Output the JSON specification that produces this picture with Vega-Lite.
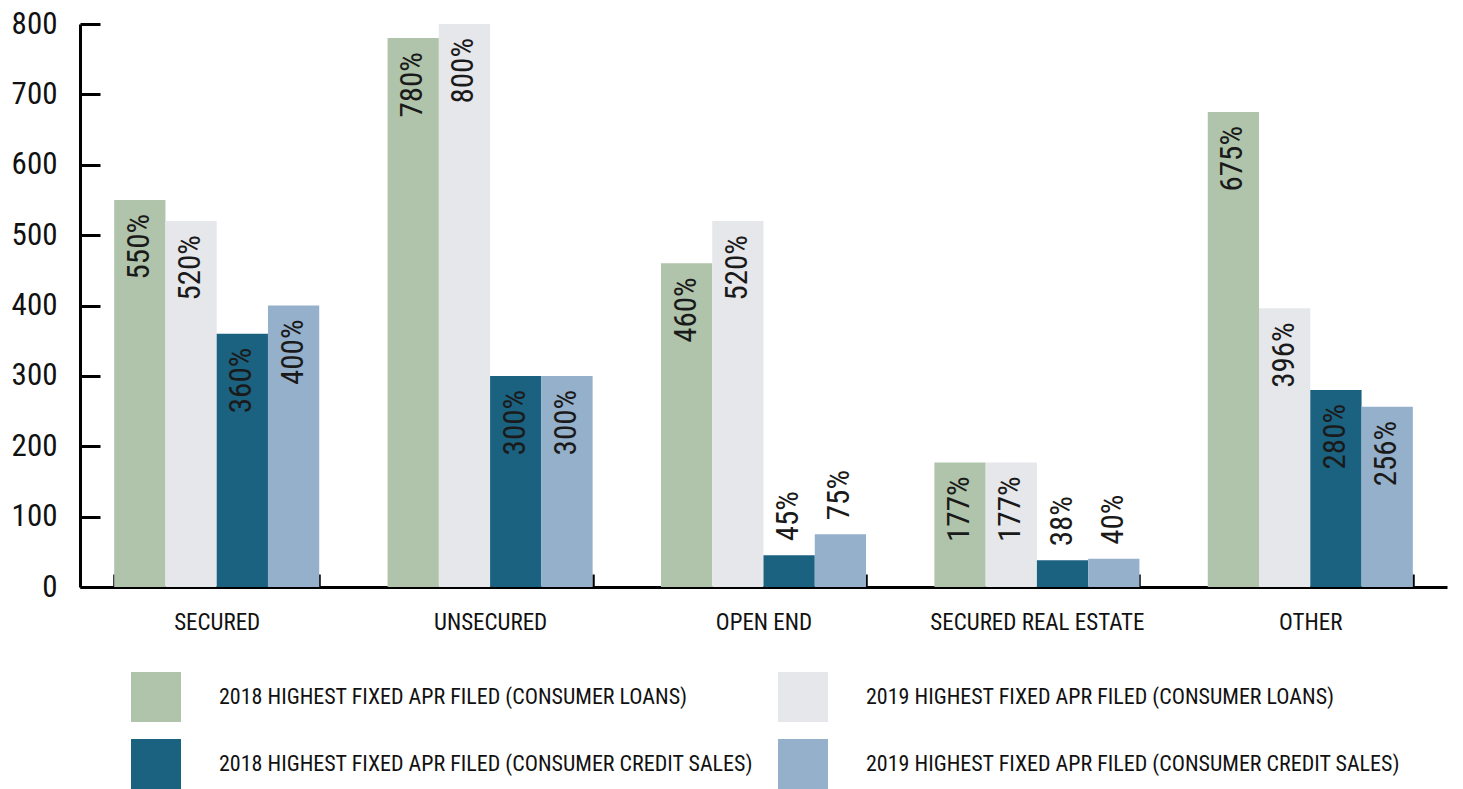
{
  "$schema": "https://vega.github.io/schema/vega-lite/v6.json",
  "width": 1367,
  "height": 563,
  "autosize": "none",
  "padding": {"left": 80, "top": 24, "right": 16, "bottom": 202},
  "background": "white",
  "config": {
    "view": {"stroke": null},
    "font": "Roboto Condensed",
    "axis": {"labelFont": "Roboto Condensed", "labelColor": "#111111"},
    "legend": {"labelFont": "Roboto Condensed", "labelColor": "#111111"}
  },
  "data": {
    "values": [
      {"category": "Secured", "series": "2018 Highest Fixed APR Filed (Consumer Loans)", "value": 550},
      {"category": "Secured", "series": "2019 Highest Fixed APR Filed (Consumer Loans)", "value": 520},
      {"category": "Secured", "series": "2018 Highest Fixed APR Filed (Consumer Credit Sales)", "value": 360},
      {"category": "Secured", "series": "2019 Highest Fixed APR Filed (Consumer Credit Sales)", "value": 400},
      {"category": "Unsecured", "series": "2018 Highest Fixed APR Filed (Consumer Loans)", "value": 780},
      {"category": "Unsecured", "series": "2019 Highest Fixed APR Filed (Consumer Loans)", "value": 800},
      {"category": "Unsecured", "series": "2018 Highest Fixed APR Filed (Consumer Credit Sales)", "value": 300},
      {"category": "Unsecured", "series": "2019 Highest Fixed APR Filed (Consumer Credit Sales)", "value": 300},
      {"category": "Open End", "series": "2018 Highest Fixed APR Filed (Consumer Loans)", "value": 460},
      {"category": "Open End", "series": "2019 Highest Fixed APR Filed (Consumer Loans)", "value": 520},
      {"category": "Open End", "series": "2018 Highest Fixed APR Filed (Consumer Credit Sales)", "value": 45},
      {"category": "Open End", "series": "2019 Highest Fixed APR Filed (Consumer Credit Sales)", "value": 75},
      {"category": "Secured Real Estate", "series": "2018 Highest Fixed APR Filed (Consumer Loans)", "value": 177},
      {"category": "Secured Real Estate", "series": "2019 Highest Fixed APR Filed (Consumer Loans)", "value": 177},
      {"category": "Secured Real Estate", "series": "2018 Highest Fixed APR Filed (Consumer Credit Sales)", "value": 38},
      {"category": "Secured Real Estate", "series": "2019 Highest Fixed APR Filed (Consumer Credit Sales)", "value": 40},
      {"category": "Other", "series": "2018 Highest Fixed APR Filed (Consumer Loans)", "value": 675},
      {"category": "Other", "series": "2019 Highest Fixed APR Filed (Consumer Loans)", "value": 396},
      {"category": "Other", "series": "2018 Highest Fixed APR Filed (Consumer Credit Sales)", "value": 280},
      {"category": "Other", "series": "2019 Highest Fixed APR Filed (Consumer Credit Sales)", "value": 256}
    ]
  },
  "encoding": {
    "x": {
      "field": "category",
      "type": "nominal",
      "sort": ["Secured", "Unsecured", "Open End", "Secured Real Estate", "Other"],
      "scale": {"paddingInner": 0.25, "paddingOuter": 0.125},
      "axis": {
        "title": null,
        "labelAngle": 0,
        "labelFontSize": 23,
        "labelLimit": 0,
        "labelExpr": "upper(datum.label)",
        "labelPadding": 37,
        "domainColor": "black",
        "domainWidth": 3,
        "tickColor": "black",
        "tickWidth": 2.5,
        "tickSize": -13,
        "tickBand": "extent"
      }
    },
    "xOffset": {
      "field": "series",
      "sort": [
        "2018 Highest Fixed APR Filed (Consumer Loans)",
        "2019 Highest Fixed APR Filed (Consumer Loans)",
        "2018 Highest Fixed APR Filed (Consumer Credit Sales)",
        "2019 Highest Fixed APR Filed (Consumer Credit Sales)"
      ],
      "scale": {"paddingInner": 0, "paddingOuter": 0}
    },
    "y": {
      "field": "value",
      "type": "quantitative",
      "scale": {"domain": [0, 800]},
      "axis": {
        "title": null,
        "values": [0, 100, 200, 300, 400, 500, 600, 700, 800],
        "grid": false,
        "labelFontSize": 31,
        "labelPadding": 43,
        "domainColor": "black",
        "domainWidth": 3,
        "tickColor": "black",
        "tickWidth": 3,
        "tickSize": -20
      }
    }
  },
  "layer": [
    {
      "mark": {"type": "bar"},
      "encoding": {
        "color": {
          "field": "series",
          "type": "nominal",
          "sort": [
            "2018 Highest Fixed APR Filed (Consumer Loans)",
            "2019 Highest Fixed APR Filed (Consumer Loans)",
            "2018 Highest Fixed APR Filed (Consumer Credit Sales)",
            "2019 Highest Fixed APR Filed (Consumer Credit Sales)"
          ],
          "scale": {
            "domain": [
              "2018 Highest Fixed APR Filed (Consumer Loans)",
              "2019 Highest Fixed APR Filed (Consumer Loans)",
              "2018 Highest Fixed APR Filed (Consumer Credit Sales)",
              "2019 Highest Fixed APR Filed (Consumer Credit Sales)"
            ],
            "range": ["#afc4aa", "#e6e7eb", "#1b6180", "#95b0cb"]
          },
          "legend": {
            "title": null,
            "orient": "none",
            "direction": "horizontal",
            "legendX": 51,
            "legendY": 648,
            "columns": 2,
            "symbolType": "square",
            "symbolSize": 2500,
            "symbolStrokeWidth": 0,
            "symbolOpacity": 1,
            "labelFontSize": 22,
            "labelOffset": 38,
            "labelLimit": 0,
            "rowPadding": 17,
            "columnPadding": 24,
            "padding": 0,
            "labelExpr": "upper(datum.label)"
          }
        }
      }
    },
    {
      "transform": [
        {"filter": "datum.value >= 100"},
        {"calculate": "datum.value + '%'", "as": "label"}
      ],
      "mark": {"type": "text", "angle": 270, "align": "right", "baseline": "middle", "dx": -14, "fontSize": 31, "color": "#1a1a1a"},
      "encoding": {"text": {"field": "label"}}
    },
    {
      "transform": [
        {"filter": "datum.value < 100"},
        {"calculate": "datum.value + '%'", "as": "label"}
      ],
      "mark": {"type": "text", "angle": 270, "align": "left", "baseline": "middle", "dx": 14, "fontSize": 31, "color": "#1a1a1a"},
      "encoding": {"text": {"field": "label"}}
    }
  ]
}
